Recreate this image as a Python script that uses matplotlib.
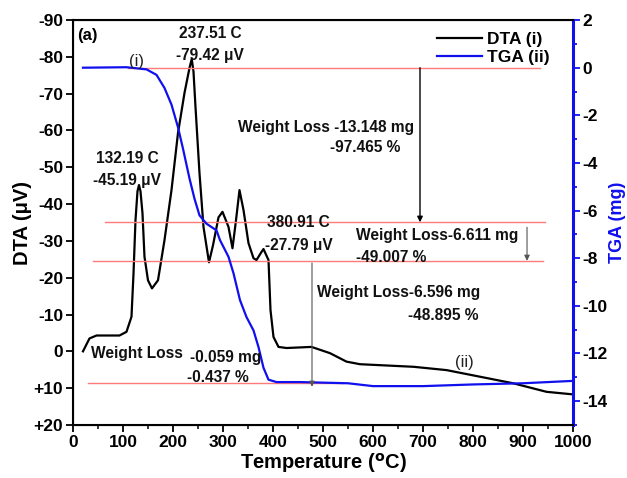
"""DTA / TGA thermogram with weight-loss annotations."""

import matplotlib

matplotlib.use("Agg")
import matplotlib.pyplot as plt
from matplotlib.ticker import MultipleLocator

plt.rcParams["font.family"] = ["Liberation Sans", "DejaVu Sans"]
plt.rcParams["font.weight"] = "bold"
plt.rcParams["axes.unicode_minus"] = False

# DTA curve (uV, negative = up on the plot)
dta_temp = [20, 33, 47, 93, 107, 117, 121, 125, 129, 132, 135, 139, 143, 150, 158,
            170, 183, 197, 210, 223, 233, 237.5, 241, 245, 253, 261, 272, 280, 291,
            299, 311, 319, 326, 333, 341, 351, 361, 367, 377, 381, 391, 395, 401,
            411, 427, 477, 514, 547, 574, 681, 747, 814, 881, 947, 1000]
dta_uv = [0.0, -3.5, -4.3, -4.3, -5.3, -9.4, -21.0, -35.6, -43.5, -45.19, -43.5,
          -37.5, -25.7, -19.3, -17.1, -19.3, -30.2, -43.8, -59.3, -70.2, -77.0,
          -79.42, -76.0, -66.4, -48.4, -33.8, -24.2, -28.8, -36.4, -37.9, -33.8,
          -28.0, -35.6, -43.8, -38.4, -29.4, -25.3, -24.8, -27.0, -27.79, -24.8,
          -11.2, -3.9, -1.2, -0.9, -1.2, 0.5, 2.8, 3.5, 4.2, 5.1, 6.9, 8.7, 11.0,
          11.7]

# TGA curve (mg)
tga_temp = [20, 107, 147, 167, 183, 197, 210, 220, 233, 243, 253, 267, 287, 294,
            311, 321, 334, 347, 361, 371, 381, 391, 407, 454, 550, 600, 700, 800,
            900, 1000]
tga_mg = [0.0, 0.02, -0.07, -0.3, -0.85, -1.55, -2.5, -3.4, -4.65, -5.5, -6.2,
          -6.55, -6.83, -7.24, -7.94, -8.63, -9.76, -10.47, -11.03, -11.73, -12.6,
          -13.1, -13.2, -13.2, -13.25, -13.37, -13.37, -13.3, -13.25, -13.15]

dta_ticks = [-90, -80, -70, -60, -50, -40, -30, -20, -10, 0, 10, 20]
dta_tick_labels = ["-90", "-80", "-70", "-60", "-50", "-40", "-30", "-20", "-10",
                   "0", "+10", "+20"]

# weight-loss reference levels (mg) with their temperature spans
level_mg = [0.0, -6.49, -8.11, -13.25]
level_start = [110, 64, 40, 30]
level_end = [934, 944, 940, 540]

fig = plt.figure(figsize=(6.27, 4.78), dpi=100)
ax = fig.add_axes([0.1164, 0.111, 0.7975, 0.847])
ax2 = ax.twinx()

ax.plot(dta_temp, dta_uv, color="black", lw=1.6, label="DTA (i)")
ax2.plot(tga_temp, tga_mg, color="#1010ee", lw=1.6, label="TGA (ii)")

ax.set_xlim(0, 1000)
ax.set_ylim(20, -90)
ax.set_yticks(dta_ticks, dta_tick_labels)
ax.xaxis.set_major_locator(MultipleLocator(100))
ax.xaxis.set_minor_locator(MultipleLocator(50))
ax.tick_params(axis="both", labelsize=12.5, width=1.3, length=5, pad=2)
ax.tick_params(axis="x", which="minor", width=1.1, length=3)
ax.tick_params(top=False, right=False)
ax.set_xlabel("Temperature ($\\mathbf{^{o}}$C)", fontsize=14.5, fontweight="bold", labelpad=1)
ax.set_ylabel("DTA (μV)", fontsize=14.5, fontweight="bold", labelpad=1)

ax2.set_ylim(-15, 2)
ax2.yaxis.set_major_locator(MultipleLocator(2))
ax2.yaxis.set_minor_locator(MultipleLocator(1))
ax2.tick_params(axis="y", which="both", colors="#1010ee", labelcolor="black",
                labelsize=12.5, width=1.3, pad=2)
ax2.tick_params(axis="y", which="major", length=5)
ax2.tick_params(axis="y", which="minor", length=3)
ax2.set_ylabel("TGA (mg)", fontsize=13, fontweight="bold", color="#1010ee", labelpad=1)
for side in ["left", "bottom", "top"]:
    ax2.spines[side].set_linewidth(1.5)
ax2.spines["right"].set_color("#1010ee")
ax2.spines["right"].set_linewidth(2.2)

for mg, start, end in zip(level_mg, level_start, level_end):
    ax2.plot([start, end], [mg, mg], color="#ff7a7a", lw=1.0, zorder=1)

arrow_style = dict(arrowstyle="-|>", mutation_scale=8, shrinkA=0, shrinkB=0)
ax2.annotate("", xy=(694, -6.49), xytext=(694, 0.0),
             arrowprops=dict(color="black", lw=1.0, **arrow_style))
ax2.annotate("", xy=(908, -8.11), xytext=(908, -6.7),
             arrowprops=dict(color="#555555", lw=0.8, **arrow_style))
ax2.annotate("", xy=(478, -13.4), xytext=(478, -8.2),
             arrowprops=dict(color="#555555", lw=0.8, **arrow_style))

txt = dict(fontsize=11.2, fontweight="bold", color="#111111", va="center")
ax2.text(8, 1.37, "(a)", ha="left", fontsize=12, fontweight="bold", va="center")
ax2.text(274, 1.45, "237.51 C", ha="center", **txt)
ax2.text(274, 0.53, "-79.42 μV", ha="center", **txt)
ax2.text(128, 0.28, "(i)", ha="center", fontsize=12, fontweight="normal",
         color="#222222", va="center")
ax2.text(330, -2.5, "Weight Loss -13.148 mg", ha="left", **txt)
ax2.text(584, -3.34, "-97.465 %", ha="center", **txt)
ax2.text(108, -3.8, "132.19 C", ha="center", **txt)
ax2.text(108, -4.72, "-45.19 μV", ha="center", **txt)
ax2.text(450, -6.49, "380.91 C", ha="center", **txt)
ax2.text(452, -7.45, "-27.79 μV", ha="center", **txt)
ax2.text(566, -7.03, "Weight Loss-6.611 mg", ha="left", **txt)
ax2.text(566, -7.96, "-49.007 %", ha="left", **txt)
ax2.text(488, -9.43, "Weight Loss-6.596 mg", ha="left", **txt)
ax2.text(670, -10.4, "-48.895 %", ha="left", **txt)
ax2.text(36, -12.0, "Weight Loss", ha="left", **txt)
ax2.text(234, -12.16, "-0.059 mg", ha="left", **txt)
ax2.text(228, -13.0, "-0.437 %", ha="left", **txt)
ax2.text(782, -12.37, "(ii)", ha="center", fontsize=12, fontweight="normal",
         color="#222222", va="center")

handles = ax.get_lines()[:1] + ax2.get_lines()[:1]
ax2.legend(handles, [h.get_label() for h in handles], loc="upper right",
           bbox_to_anchor=(0.985, 1.01), frameon=False, fontsize=12.5,
           handlelength=2.6, handletextpad=0.3, labelspacing=0.2)

fig.savefig("out.png", dpi=100)
